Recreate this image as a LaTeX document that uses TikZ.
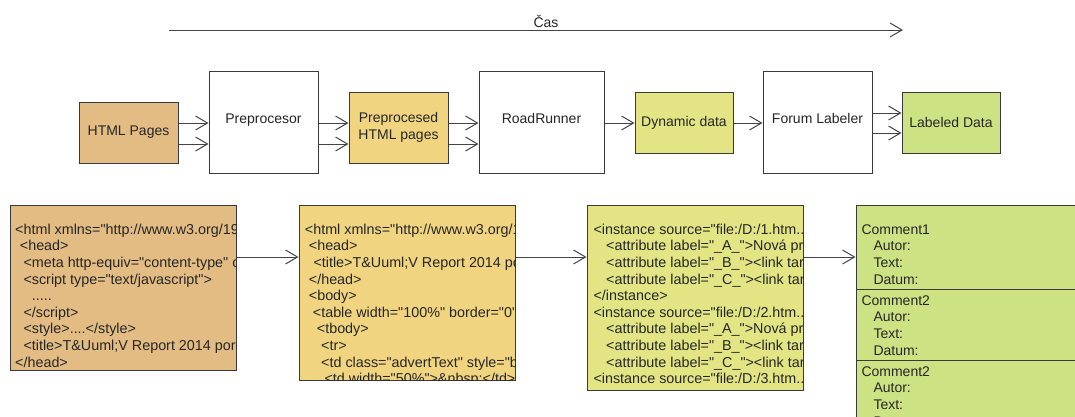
\documentclass[tikz,border=0pt]{standalone}
\usepackage{fontspec}
\setmainfont{Liberation Sans}[Ligatures=TeXOff]
\usetikzlibrary{arrows.meta}

\definecolor{rawfill}{HTML}{E2BC82}
\definecolor{prepfill}{HTML}{F0D480}
\definecolor{dynfill}{HTML}{E3E484}
\definecolor{labfill}{HTML}{CDE383}
\definecolor{edge}{HTML}{3A3A3A}
\definecolor{wire}{HTML}{444444}

\newcommand\codeln[3]{\node[codetxt] (#1) at #2 {#3};}
\newcommand\fieldln[3]{\node[fieldtxt] (#1) at #2 {#3};}

\begin{document}
\begin{tikzpicture}[x=1pt,y=-1pt,
  txt/.style={font=\fontsize{14}{16.6}\selectfont, text=black!85},
  blk/.style={txt, draw=edge, line width=1pt, inner sep=2pt, align=center},
  stage/.style={blk, fill=white, text height=10pt, text depth=8pt},
  codebox/.style={draw=edge, line width=1pt, inner sep=0pt},
  fieldtxt/.style={txt, anchor=base west, inner sep=0pt},
  codetxt/.style={fieldtxt, font=\fontsize{14.35}{16.6}\selectfont},
  arr/.style={draw=wire, line width=1pt, -{Straight Barb[length=12pt,width=14pt,line width=1pt]}}]

\useasboundingbox (0,0) rectangle (1075,416);
\clip (0,0) rectangle (1075,416);

% time axis
\coordinate (t0) at (169,30);
\coordinate (t1) at (903,30);
\draw[arr] (t0) -- (t1);
\node[txt] (cas) at (546,21) {Čas};

% processing chain
\node[blk, fill=rawfill, minimum width=99pt, minimum height=61pt] (html) at (128.5,132.5) {HTML Pages};
\node[stage, minimum width=109pt, minimum height=102pt] (pre) at (263.5,122) {Preprocesor};
\node[blk, fill=prepfill, minimum width=99pt, minimum height=71pt] (prep) at (398.5,127.5) {Preprocesed\\HTML pages};
\node[stage, minimum width=125pt, minimum height=102pt] (rr) at (541.5,122) {RoadRunner};
\node[blk, fill=dynfill, minimum width=98pt, minimum height=61pt] (dyn) at (684,122.5) {Dynamic data};
\node[stage, minimum width=109pt, minimum height=102pt] (fl) at (817.5,122) {Forum Labeler};
\node[blk, fill=labfill, minimum width=98pt, minimum height=61pt] (lab) at (951,122.5) {Labeled Data};

\foreach \y in {123,144} {
  \draw[arr] (html.east |- 0,\y) -- (pre.west |- 0,\y);
  \draw[arr] (pre.east |- 0,\y) -- (prep.west |- 0,\y);
  \draw[arr] (prep.east |- 0,\y) -- (rr.west |- 0,\y);
}
\draw[arr] (rr.east |- 0,123) -- (dyn.west |- 0,123);
\draw[arr] (dyn.east |- 0,123) -- (fl.west |- 0,123);
\foreach \y in {113,133}
  \draw[arr] (fl.east |- 0,\y) -- (lab.west |- 0,\y);

% data samples
\node[codebox, fill=rawfill, minimum width=226pt, minimum height=165pt] (b1) at (123,287.5) {};
\node[codebox, fill=prepfill, minimum width=216pt, minimum height=175pt] (b2) at (407,292.5) {};
\node[codebox, fill=dynfill, minimum width=216pt, minimum height=185pt] (b3) at (695,297.5) {};
\node[codebox, fill=labfill, minimum width=244pt, minimum height=235pt] (b4) at (978,322.5) {};

\draw[arr] (b1.east |- 0,257) -- (b2.west |- 0,257);
\draw[arr] (b2.east |- 0,257) -- (b3.west |- 0,257);
\draw[arr] (b3.east |- 0,257) -- (b4.west |- 0,257);

% raw page source
\begin{scope}
\clip ([shift={(0.5,-0.5)}]b1.south west) rectangle ([shift={(-0.5,0.5)}]b1.north east);
\codeln{b1a}{(15,234.3)}{<html xmlns="http://www.w3.org/1999/xhtml">}
\codeln{b1b}{(19.7,250.9)}{<head>}
\codeln{b1c}{(23.3,267.5)}{<meta http-equiv="content-type" content="text/html">}
\codeln{b1d}{(23.3,284.1)}{<script type="text/javascript">}
\codeln{b1e}{(31.7,300.7)}{.....}
\codeln{b1f}{(23.3,317.3)}{</script>}
\codeln{b1g}{(23.3,333.9)}{<style>....</style>}
\codeln{b1h}{(23.3,350.5)}{<title>T\&Uuml;V Report 2014 porucha</title>}
\codeln{b1i}{(15,367.1)}{</head>}
\end{scope}

% preprocessed page source
\begin{scope}
\clip ([shift={(0.5,-0.5)}]b2.south west) rectangle ([shift={(-0.5,0.5)}]b2.north east);
\codeln{b2a}{(304.7,234.3)}{<html xmlns="http://www.w3.org/1999/xhtml">}
\codeln{b2b}{(308.7,250.9)}{<head>}
\codeln{b2c}{(313.3,267.5)}{<title>T\&Uuml;V Report 2014 porucha</title>}
\codeln{b2d}{(308.7,284.1)}{</head>}
\codeln{b2e}{(308.7,300.7)}{<body>}
\codeln{b2f}{(312.7,317.3)}{<table width="100\%" border="0">}
\codeln{b2g}{(316.7,333.9)}{<tbody>}
\codeln{b2h}{(321,350.5)}{<tr>}
\codeln{b2i}{(321,367.1)}{<td class="advertText" style="border:0">}
\codeln{b2j}{(324.3,383.7)}{<td width="50\%">\&nbsp;</td>}
\end{scope}

% extracted instances
\begin{scope}
\clip ([shift={(0.5,-0.5)}]b3.south west) rectangle ([shift={(-0.5,0.5)}]b3.north east);
\codeln{b3a}{(593.3,234.3)}{<instance source="file:/D:/1.htm...">}
\codeln{b3b}{(606,250.9)}{<attribute label="\_A\_">Nová práce</attribute>}
\codeln{b3c}{(606,267.5)}{<attribute label="\_B\_"><link target="">}
\codeln{b3d}{(606,284.1)}{<attribute label="\_C\_"><link target="">}
\codeln{b3e}{(593.3,300.7)}{</instance>}
\codeln{b3f}{(593.3,317.3)}{<instance source="file:/D:/2.htm...">}
\codeln{b3g}{(606,333.9)}{<attribute label="\_A\_">Nová práce</attribute>}
\codeln{b3h}{(606,350.5)}{<attribute label="\_B\_"><link target="">}
\codeln{b3i}{(606,367.1)}{<attribute label="\_C\_"><link target="">}
\codeln{b3j}{(593.3,383.7)}{<instance source="file:/D:/3.htm...">}
\end{scope}

% labeled comments
\draw[draw=edge, line width=1pt] (b4.west |- 0,289) -- (b4.east |- 0,289);
\draw[draw=edge, line width=1pt] (b4.west |- 0,360) -- (b4.east |- 0,360);
\fieldln{c1}{(861.3,234.3)}{Comment1}
\fieldln{c1a}{(873.3,250.9)}{Autor:}
\fieldln{c1t}{(873.3,267.5)}{Text:}
\fieldln{c1d}{(873.3,284.1)}{Datum:}
\fieldln{c2}{(861.3,305.3)}{Comment2}
\fieldln{c2a}{(873.3,321.9)}{Autor:}
\fieldln{c2t}{(873.3,338.5)}{Text:}
\fieldln{c2d}{(873.3,355.1)}{Datum:}
\fieldln{c3}{(861.3,376.3)}{Comment2}
\fieldln{c3a}{(873.3,392.9)}{Autor:}
\fieldln{c3t}{(873.3,409.5)}{Text:}
\fieldln{c3d}{(873.3,426.1)}{Datum:}

\end{tikzpicture}
\end{document}
